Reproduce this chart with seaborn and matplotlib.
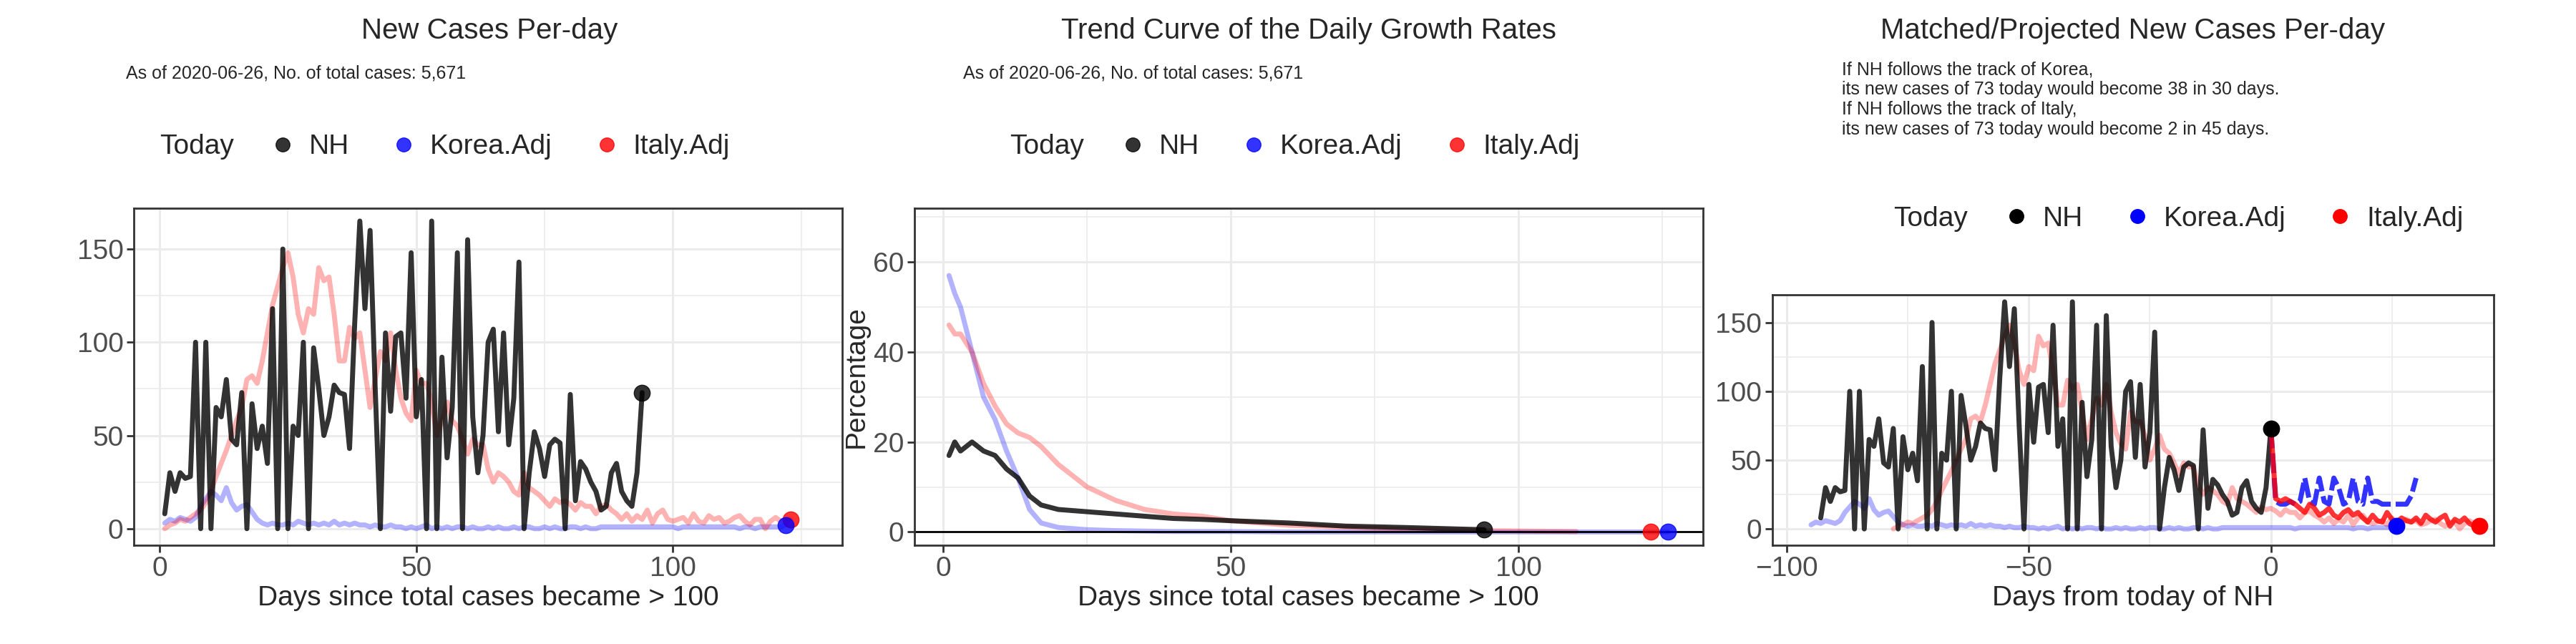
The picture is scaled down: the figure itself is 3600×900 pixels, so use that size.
import matplotlib
matplotlib.use('Agg')
import matplotlib.pyplot as plt
import seaborn as sns
import numpy as np
from matplotlib.lines import Line2D
from matplotlib.ticker import AutoMinorLocator

sns.set_theme(style='whitegrid')
plt.rcParams['font.family'] = ['Liberation Sans', 'DejaVu Sans']

# ---- data ----
nh_cases = [8, 30, 20, 30, 27, 28, 100, 0, 100, 0, 65, 60, 80, 48, 45, 73, 0, 67,
            43, 55, 35, 118, 0, 150, 0, 55, 50, 100, 0, 97, 75, 50, 60, 77, 73, 72,
            43, 110, 165, 118, 160, 75, 0, 105, 63, 103, 105, 70, 148, 60, 80, 0,
            165, 0, 92, 38, 65, 148, 0, 155, 60, 30, 50, 100, 107, 52, 105, 45,
            70, 143, 0, 30, 52, 43, 28, 45, 48, 46, 0, 72, 15, 36, 32, 25, 20, 10,
            12, 30, 35, 20, 15, 12, 30, 73]
korea_cases = [3, 5, 4, 6, 5, 4, 6, 12, 16, 20, 18, 15, 22, 14, 10, 12, 13, 9, 5, 3,
               2, 3, 2, 2, 3, 2, 4, 3, 2, 3, 2, 3, 2, 4, 2, 3, 2, 3, 2, 2, 1, 2, 1, 1,
               2, 1, 1, 0, 1, 0, 1, 2, 0, 1, 0, 1, 0, 1, 1, 0, 1, 0, 0, 1, 0, 1, 0, 0,
               1, 0, 1, 1, 0, 0, 1, 0, 1, 0, 0, 1, 1, 0, 1, 0, 0, 1, 1, 1, 1, 1, 1, 1,
               1, 1, 1, 1, 1, 1, 1, 1, 0, 1, 1, 1, 1, 1, 1, 1, 1, 1, 1, 1, 0, 1, 1, 0,
               1, 1, 1, 1, 1, 2]
italy_cases = [0, 2, 3, 5, 4, 6, 8, 10, 14, 20, 28, 35, 42, 50, 58, 65, 80, 82, 78,
               90, 105, 120, 130, 140, 148, 135, 115, 105, 118, 115, 140, 133, 135,
               115, 90, 90, 108, 102, 105, 85, 65, 80, 95, 90, 105, 85, 70, 62, 58,
               85, 78, 78, 68, 50, 58, 68, 58, 55, 48, 40, 48, 45, 45, 32, 25, 30,
               28, 25, 20, 18, 30, 22, 20, 18, 15, 12, 16, 14, 15, 13, 10, 14, 12,
               12, 8, 12, 13, 10, 8, 5, 8, 4, 7, 5, 10, 3, 8, 10, 5, 4, 5, 6, 3, 8,
               4, 3, 7, 5, 6, 3, 4, 6, 7, 4, 2, 5, 5, 0, 4, 6, 4, 5, 5]

growth_days = [1, 2, 3, 5, 7, 9, 11, 13, 15, 17, 20, 25, 30, 35, 40, 45, 50, 60,
               70, 80, 94, 110, 126]
nh_growth = [17, 20, 18, 20, 18, 17, 14, 12, 8, 6, 5, 4.5, 4, 3.5, 3, 2.8, 2.5, 2,
             1.3, 1, 0.5, None, None]
korea_growth = [57, 53, 50, 40, 30, 25, 18, 12, 5, 2, 1, 0.5, 0.3, 0.2, 0.1, 0.1,
                0.1, 0, 0, 0, 0, 0, 0]
italy_growth = [46, 44, 44, 40, 33, 28, 24, 22, 21, 19, 15, 10, 7, 5, 4, 3.5, 2.5,
                1.5, 1, 0.6, 0.3, 0.1, None]

korea_shift = 96   # Korea.Adj day aligned to NH today
italy_shift = 79
korea_proj = [73, 20, 18, 18, 20, 18, 20, 37, 20, 18, 37, 20, 18, 37, 30, 18, 20,
              37, 20, 18, 37, 20, 20, 18, 18, 18, 18, 18, 18, 24, 37]
italy_proj = [73, 22, 20, 22, 20, 18, 15, 12, 18, 15, 10, 12, 15, 10, 8, 12, 14,
              10, 12, 8, 5, 10, 6, 5, 12, 7, 5, 8, 6, 5, 8, 4, 10, 7, 5, 8, 10, 2,
              7, 5, 8, 4, 2, 2]

TS = 28
LW = 5
MS = 260
fig = plt.figure(figsize=(36, 9), dpi=100)
ax1 = fig.add_axes([0.052, 0.153, 0.275, 0.524])
ax2 = fig.add_axes([0.355, 0.153, 0.306, 0.524])
ax3 = fig.add_axes([0.688, 0.153, 0.280, 0.389])

nh_days = np.arange(1, len(nh_cases) + 1)
k_days = np.arange(1, len(korea_cases) + 1)
i_days = np.arange(1, len(italy_cases) + 1)

# panel 1
sns.lineplot(x=k_days, y=korea_cases, ax=ax1, color='blue', alpha=0.3, lw=LW)
sns.lineplot(x=i_days, y=italy_cases, ax=ax1, color='red', alpha=0.3, lw=LW)
sns.lineplot(x=nh_days, y=nh_cases, ax=ax1, color='black', alpha=0.8, lw=LW)
ax1.scatter(nh_days[-1], nh_cases[-1], s=MS, color='black', alpha=0.8, zorder=5)
ax1.scatter(i_days[-1], italy_cases[-1], s=MS, color='red', alpha=0.8, zorder=5)
ax1.scatter(k_days[-1], korea_cases[-1], s=MS, color='blue', alpha=0.8, zorder=5)
ax1.set_xlim(-5, 133)
ax1.set_ylim(-9, 172)
ax1.set_yticks([0, 50, 100, 150])
ax1.set_xticks([0, 50, 100])
ax1.set_xlabel('Days since total cases became > 100', fontsize=TS)

# panel 2
gd = np.array(growth_days)
for vals, col, a in [(korea_growth, 'blue', 0.3), (italy_growth, 'red', 0.3),
                     (nh_growth, 'black', 0.8)]:
    v = np.array([np.nan if x is None else x for x in vals], dtype=float)
    sns.lineplot(x=gd, y=v, ax=ax2, color=col, alpha=a, lw=LW)
ax2.axhline(0, color='black', lw=2)
ax2.scatter(94, 0.5, s=MS, color='black', alpha=0.8, zorder=5)
ax2.scatter(123, 0.1, s=MS, color='red', alpha=0.8, zorder=5)
ax2.scatter(126, 0, s=MS, color='blue', alpha=0.8, zorder=5)
ax2.set_xlim(-5, 132)
ax2.set_ylim(-3, 72)
ax2.set_yticks([0, 20, 40, 60])
ax2.set_xticks([0, 50, 100])
ax2.set_xlabel('Days since total cases became > 100', fontsize=TS)

# panel 3
n = len(nh_cases)
sns.lineplot(x=k_days - korea_shift, y=korea_cases, ax=ax3, color='blue', alpha=0.3, lw=LW)
sns.lineplot(x=i_days - italy_shift, y=italy_cases, ax=ax3, color='red', alpha=0.3, lw=LW)
sns.lineplot(x=nh_days - n, y=nh_cases, ax=ax3, color='black', alpha=0.8, lw=LW)
kp = np.arange(len(korea_proj))
ip = np.arange(len(italy_proj))
ax3.plot(kp, korea_proj, color='blue', alpha=0.8, lw=LW, ls=(0, (4, 1)))
ax3.plot(ip, italy_proj, color='red', alpha=0.8, lw=LW)
ax3.scatter(0, nh_cases[-1], s=MS, color='black', zorder=5)
ax3.scatter(k_days[-1] - korea_shift, korea_cases[-1], s=MS, color='blue', zorder=5)
ax3.scatter(ip[-1], italy_proj[-1], s=MS, color='red', zorder=5)
ax3.set_xlim(-103, 46)
ax3.set_ylim(-12, 170)
ax3.set_yticks([0, 50, 100, 150])
ax3.set_xticks([-100, -50, 0])
ax3.set_xlabel('Days from today of NH', fontsize=TS)

for ax in (ax1, ax2, ax3):
    ax.tick_params(labelsize=TS, colors='#333333', length=7, width=2, left=True, bottom=True)
    ax.tick_params(labelcolor='#4d4d4d')
    for s in ax.spines.values():
        s.set_color('#333333')
        s.set_linewidth(2)
    ax.grid(True, color='#ebebeb', lw=2.2)
    ax.xaxis.set_minor_locator(AutoMinorLocator(2))
    ax.yaxis.set_minor_locator(AutoMinorLocator(2))
    ax.grid(True, which='minor', color='#ebebeb', lw=1.2)
    ax.tick_params(which='minor', length=0)
ax2.set_ylabel('Percentage', fontsize=TS)


def legend(y, x0, alpha):
    fig.text(x0, y, 'Today', fontsize=TS, va='center')
    h = [Line2D([], [], ls='none', marker='o', ms=14, color=c, alpha=alpha)
         for c in ('black', 'blue', 'red')]
    fig.legend(h, ['NH', 'Korea.Adj', 'Italy.Adj'], ncol=3, frameon=False,
               fontsize=TS, loc='center left', bbox_to_anchor=(x0 + 0.031, y),
               handletextpad=0.3, columnspacing=1.3, handlelength=1.3)


fig.text(0.19, 0.952, 'New Cases Per-day', fontsize=29, ha='center', va='center')
fig.text(0.049, 0.886, 'As of 2020-06-26, No. of total cases: 5,671', fontsize=18, va='center')
legend(0.772, 0.062, 0.8)

fig.text(0.508, 0.952, 'Trend Curve of the Daily Growth Rates', fontsize=29, ha='center', va='center')
fig.text(0.374, 0.886, 'As of 2020-06-26, No. of total cases: 5,671', fontsize=18, va='center')
legend(0.772, 0.392, 0.8)

fig.text(0.828, 0.952, 'Matched/Projected New Cases Per-day', fontsize=29, ha='center', va='center')
fig.text(0.715, 0.905,
         'If NH follows the track of Korea,\n'
         'its new cases of 73 today would become 38 in 30 days.\n'
         'If NH follows the track of Italy,\n'
         'its new cases of 73 today would become 2 in 45 days.',
         fontsize=18, va='top', linespacing=1.2)
legend(0.66, 0.735, 1.0)

fig.savefig('out.png', dpi=100)
